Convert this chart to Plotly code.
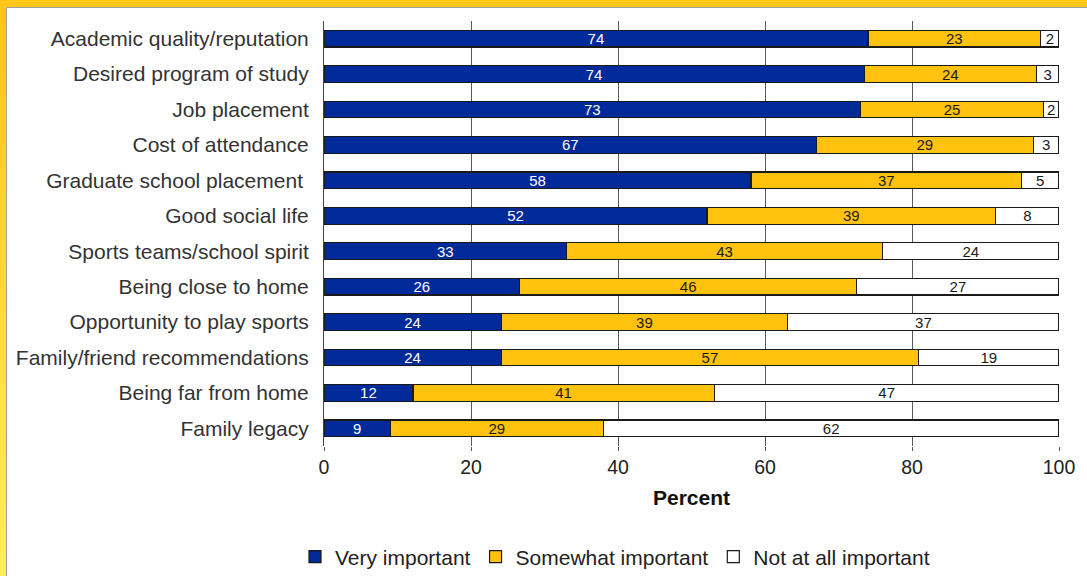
import plotly.graph_objects as go

categories = [
    "Academic quality/reputation",
    "Desired program of study",
    "Job placement",
    "Cost of attendance",
    "Graduate school placement ",
    "Good social life",
    "Sports teams/school spirit",
    "Being close to home",
    "Opportunity to play sports",
    "Family/friend recommendations",
    "Being far from home",
    "Family legacy",
]

# bar lengths (percent)
very_important = [74.0, 73.5, 73.0, 67.0, 58.1, 52.1, 33.0, 26.6, 24.1, 24.1, 12.1, 9.0]
somewhat_important = [23.5, 23.4, 24.9, 29.5, 36.8, 39.3, 43.0, 45.9, 39.0, 56.8, 41.0, 29.0]
not_important = [2.5, 3.1, 2.1, 3.5, 5.1, 8.6, 24.0, 27.5, 36.9, 19.1, 46.9, 62.0]

# printed labels
very_labels = ["74", "74", "73", "67", "58", "52", "33", "26", "24", "24", "12", "9"]
somewhat_labels = ["23", "24", "25", "29", "37", "39", "43", "46", "39", "57", "41", "29"]
not_labels = ["2", "3", "2", "3", "5", "8", "24", "27", "37", "19", "47", "62"]

x_ticks = [0, 20, 40, 60, 80, 100]

FONT = "Liberation Sans, Arial, sans-serif"
W, H = 1087, 576
L, R, T, B = 324, 28, 21, 130
PW, PH = W - L - R, H - T - B


def px(x):
    return (x - L) / PW


def py(y):
    return (H - B - y) / PH


fig = go.Figure()
series = [
    ("Very important", very_important, very_labels, "#00299A", "white"),
    ("Somewhat important", somewhat_important, somewhat_labels, "#FFC20E", "#1a1a1a"),
    ("Not at all important", not_important, not_labels, "#FFFFFF", "#1a1a1a"),
]
for name, vals, labels, color, tcolor in series:
    fig.add_trace(go.Bar(
        y=categories, x=vals, name=name, orientation="h",
        width=0.47,
        marker=dict(color=color, line=dict(color="#1a1a1a", width=1.2)),
        text=labels, textposition="inside", insidetextanchor="middle",
        textangle=0,
        textfont=dict(family=FONT, size=15, color=tcolor),
        hoverinfo="x+y+name",
    ))

shapes = []
# top gold band
shapes.append(dict(type="rect", xref="paper", yref="paper",
                   x0=px(0), x1=px(W), y0=py(7), y1=py(0),
                   fillcolor="#FFC61A", line=dict(width=0), layer="below"))
# left band with gradient
n = 24
c0 = (0xFF, 0xC6, 0x1A)
c1 = (0xFF, 0xEE, 0x55)
for i in range(n):
    t = i / (n - 1)
    c = tuple(int(round(a + (b - a) * t)) for a, b in zip(c0, c1))
    shapes.append(dict(type="rect", xref="paper", yref="paper",
                       x0=px(0), x1=px(6), y0=py(H * (i + 1) / n + 1), y1=py(H * i / n),
                       fillcolor="rgb(%d,%d,%d)" % c, line=dict(width=0), layer="below"))
# thin gray inner frame
shapes.append(dict(type="line", xref="paper", yref="paper",
                   x0=px(6.5), x1=px(W), y0=py(7.5), y1=py(7.5),
                   line=dict(color="#A0A0A0", width=1), layer="below"))
shapes.append(dict(type="line", xref="paper", yref="paper",
                   x0=px(6.5), x1=px(6.5), y0=py(H), y1=py(7.5),
                   line=dict(color="#A0A0A0", width=1), layer="below"))

fig.update_layout(
    barmode="stack",
    width=W, height=H,
    margin=dict(l=L, r=R, t=T, b=B, pad=0, autoexpand=False),
    paper_bgcolor="white",
    plot_bgcolor="white",
    font=dict(family=FONT, color="#333333"),
    uniformtext=dict(minsize=15, mode="show"),
    shapes=shapes,
    showlegend=True,
    legend=dict(
        orientation="h", x=px(295), xanchor="left", y=py(557), yanchor="middle",
        font=dict(family=FONT, size=21, color="#222222"),
        traceorder="normal", bgcolor="rgba(0,0,0,0)",
    ),
    xaxis=dict(
        range=[0, 100], tickvals=x_ticks, ticktext=[str(v) for v in x_ticks],
        showgrid=True, gridcolor="#5a5a5a", gridwidth=1,
        zeroline=False, showline=False, automargin=False,
        ticks="outside", ticklen=4, tickcolor="#5a5a5a",
        tickfont=dict(family=FONT, size=19.5, color="#222222"),
        title=dict(text="<b>Percent</b>", font=dict(family=FONT, size=21, color="#111111"), standoff=12),
    ),
    yaxis=dict(
        autorange="reversed", showgrid=False, zeroline=False,
        showline=True, linecolor="#444444", linewidth=1, automargin=False,
        ticks="", ticklabelstandoff=10,
        tickfont=dict(family=FONT, size=21, color="#333333"),
    ),
)

fig.write_html("out.html")
